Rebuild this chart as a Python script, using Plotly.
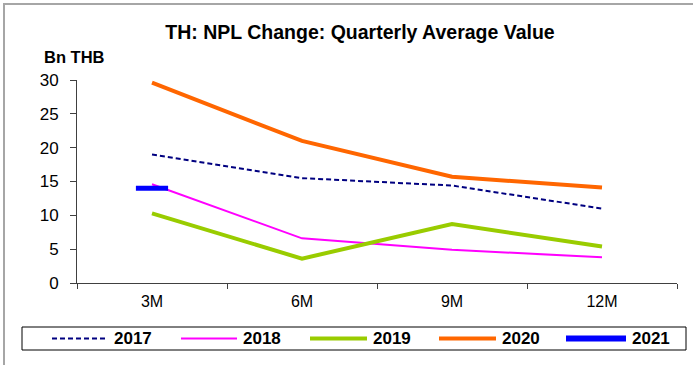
import plotly.graph_objects as go

# Chart data
periods = ["3M", "6M", "9M", "12M"]
years = ["2017", "2018", "2019", "2020", "2021"]
npl_2017 = [19.0, 15.5, 14.4, 11.0]
npl_2018 = [14.6, 6.6, 4.9, 3.8]
npl_2019 = [10.3, 3.6, 8.7, 5.4]
npl_2020 = [29.6, 21.0, 15.7, 14.1]
npl_2021 = [14.0]
y_ticks = [0, 5, 10, 15, 20, 25, 30]

values = [npl_2017, npl_2018, npl_2019, npl_2020, npl_2021]
colors = ["#000080", "#FF00FF", "#99CC00", "#FF6600", "#0000FF"]
widths = [2, 2, 4, 4, 6]
dashes = ["5px,3px", "solid", "solid", "solid", "solid"]

W, H = 693, 365
L, R, T, B = 77, 16, 80, 82
PW, PH = W - L - R, H - T - B


def px(x):
    return (x - L) / PW


def py(y):
    return (H - B - y) / PH


FONT = "Liberation Sans, Arial, sans-serif"

fig = go.Figure()
for name, vals, col, w, d in zip(years, values, colors, widths, dashes):
    if len(vals) > 1:
        fig.add_trace(go.Scatter(
            x=periods[:len(vals)], y=vals, mode="lines", name=name,
            line=dict(color=col, width=w, dash=d), showlegend=False,
        ))
    else:
        # a single-point series shows as a short bar on the category
        fig.add_trace(go.Scatter(
            x=periods[:1], y=vals, mode="markers", name=name,
            marker=dict(symbol="line-ew", size=23,
                        line=dict(color=col, width=5)),
            showlegend=False,
        ))

shapes = []
annotations = []

# outer chart frame
shapes.append(dict(type="rect", xref="paper", yref="paper",
                   x0=px(4), x1=px(700), y0=py(4), y1=py(372),
                   line=dict(color="#A6A6A6", width=2), layer="below"))

# legend box
shapes.append(dict(type="rect", xref="paper", yref="paper",
                   x0=px(22), x1=px(686), y0=py(327), y1=py(350),
                   line=dict(color="black", width=1)))

legend_x = [52, 181, 310, 439, 566]
line_len = [56, 56, 57, 57, 60]
for i, name in enumerate(years):
    x0 = legend_x[i]
    x1 = x0 + line_len[i]
    ymid = py(338.5)
    lw = widths[i] if i < 4 else 6
    shapes.append(dict(type="line", xref="paper", yref="paper",
                       x0=px(x0), x1=px(x1), y0=ymid, y1=ymid,
                       line=dict(color=colors[i], width=lw, dash=dashes[i])))
    annotations.append(dict(text="<b>%s</b>" % name, xref="paper", yref="paper",
                            x=px(x1 + 4), y=ymid, xanchor="left", yanchor="middle",
                            showarrow=False,
                            font=dict(family=FONT, size=17, color="black")))

# axis unit label
annotations.append(dict(text="<b>Bn THB</b>", xref="paper", yref="paper",
                        x=px(42), y=py(56.5), xanchor="left", yanchor="middle",
                        showarrow=False,
                        font=dict(family=FONT, size=16.5, color="black")))

fig.update_layout(
    width=W, height=H,
    margin=dict(l=L, r=R, t=T, b=B),
    paper_bgcolor="white", plot_bgcolor="white",
    title=dict(text="<b>TH: NPL Change: Quarterly Average Value</b>",
               xref="container", x=360 / W, xanchor="center",
               yref="container", y=1 - 32 / H, yanchor="middle",
               font=dict(family=FONT, size=19.5, color="black")),
    shapes=shapes, annotations=annotations,
    showlegend=False,
)

fig.update_xaxes(
    type="category", categoryorder="array", categoryarray=periods,
    range=[-0.5, 3.5], showgrid=False, zeroline=False,
    showline=True, linecolor="#404040", linewidth=1,
    ticks="outside", ticklen=5, tickcolor="#404040", tickson="boundaries",
    tickfont=dict(family=FONT, size=16, color="black"),
    ticklabelstandoff=4,
)
fig.update_yaxes(
    range=[0, 30], tickvals=y_ticks, showgrid=False, zeroline=False,
    showline=True, linecolor="#404040", linewidth=1,
    ticks="outside", ticklen=6, tickcolor="#404040",
    tickfont=dict(family=FONT, size=17, color="black"),
    ticklabelstandoff=8,
)

fig.write_html("out.html")
